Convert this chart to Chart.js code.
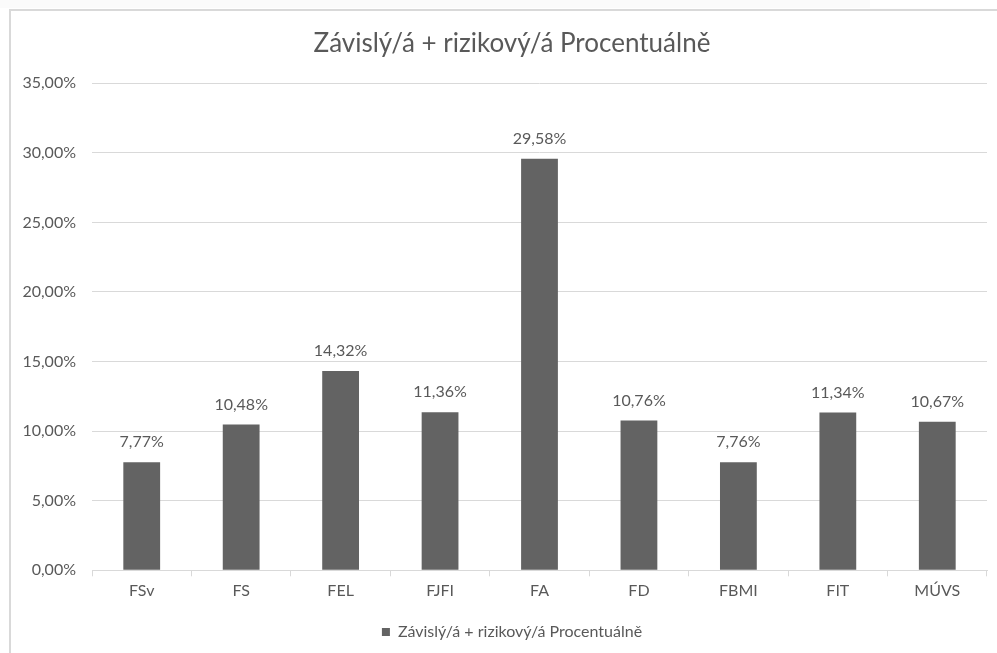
<!DOCTYPE html>
<html>
<head>
<meta charset="utf-8">
<script src="https://cdn.jsdelivr.net/npm/chart.js@4/dist/chart.umd.min.js"></script>
<style>
  html, body { margin: 0; padding: 0; background: #ffffff; }
  body { width: 997px; height: 653px; position: relative; overflow: hidden; }
  #topstrip { position: absolute; left: 0; top: 0; width: 870px; height: 8px; background: #fbfbfb; }
  #frame { position: absolute; left: 9px; top: 9px; width: 1000px; height: 660px;
           border-left: 2px solid #d9d9d9; border-top: 2px solid #d9d9d9; }
  #wrap { position: absolute; left: 11px; top: 11px; width: 986px; height: 642px; }
</style>
</head>
<body>
<div id="topstrip"></div>
<div id="frame"></div>
<div id="wrap"><canvas id="c" width="986" height="642"></canvas></div>
<script>
const categories = ["FSv", "FS", "FEL", "FJFI", "FA", "FD", "FBMI", "FIT", "MÚVS"];
const seriesName = "Závislý/á + rizikový/á Procentuálně";
const values = [7.77, 10.48, 14.32, 11.36, 29.58, 10.76, 7.76, 11.34, 10.67];
const chartTitle = "Závislý/á + rizikový/á Procentuálně";

const textColor = "#595959";
const fontFamily = "Lato, 'Open Sans', sans-serif";
const fmt = v => v.toFixed(2).replace('.', ',') + '%';

const dataLabels = {
  id: 'dataLabels',
  afterDatasetsDraw(chart) {
    const ctx = chart.ctx;
    ctx.save();
    ctx.fillStyle = textColor;
    ctx.font = "16px " + fontFamily;
    ctx.textAlign = 'center';
    ctx.textBaseline = 'middle';
    chart.getDatasetMeta(0).data.forEach((el, i) => {
      ctx.fillText(fmt(values[i]), el.x, el.y - 20);
    });
    ctx.restore();
  }
};

new Chart(document.getElementById('c'), {
  type: 'bar',
  data: {
    labels: categories,
    datasets: [{
      label: seriesName,
      data: values,
      backgroundColor: '#636363',
      borderWidth: 0,
      barPercentage: 0.37,
      categoryPercentage: 1.0
    }]
  },
  options: {
    responsive: false,
    animation: false,
    layout: { padding: { left: 26, right: 10, top: 11, bottom: 3 } },
    plugins: {
      title: {
        display: true,
        text: chartTitle,
        color: textColor,
        font: { family: fontFamily, size: 26, weight: 'normal' },
        padding: { top: 6, bottom: 24 }
      },
      legend: {
        position: 'bottom',
        labels: {
          color: textColor,
          font: { family: fontFamily, size: 16 },
          boxWidth: 8,
          boxHeight: 8,
          padding: 18.5
        }
      },
      tooltip: { enabled: false }
    },
    scales: {
      x: {
        grid: { offset: true, drawOnChartArea: false, drawTicks: true, tickLength: 6, color: '#d9d9d9' },
        border: { display: true, color: '#d9d9d9', width: 1 },
        ticks: { color: textColor, font: { family: fontFamily, size: 16 }, padding: 5 }
      },
      y: {
        min: 0,
        max: 35,
        afterFit(scale) {
          scale.width = 55;
          scale._computeLabelArea = () => undefined;
        },
        grid: { color: '#d9d9d9', drawTicks: false },
        border: { display: false },
        ticks: {
          stepSize: 5,
          color: textColor,
          font: { family: fontFamily, size: 16 },
          padding: 16,
          callback: v => fmt(v)
        }
      }
    }
  },
  plugins: [dataLabels]
});
</script>
</body>
</html>
